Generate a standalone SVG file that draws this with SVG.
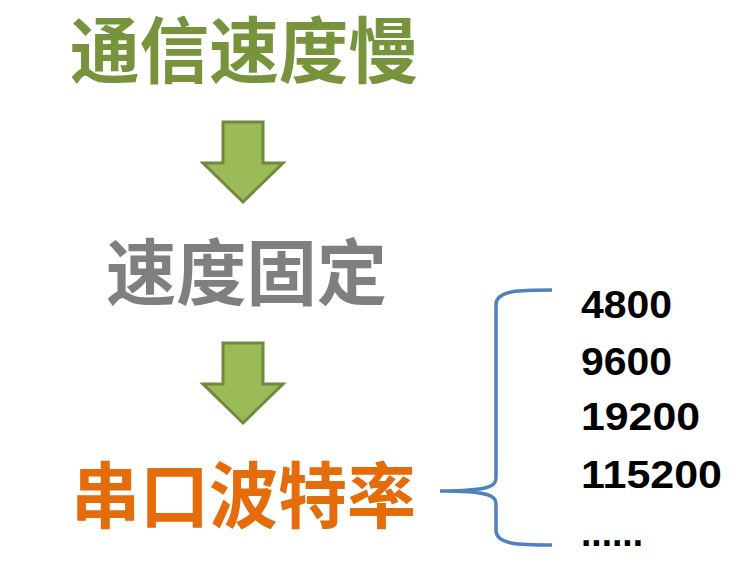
<svg xmlns="http://www.w3.org/2000/svg" width="743" height="577" viewBox="0 0 743 577">
<defs>
<style>
.cjk{font-family:"Noto Sans CJK SC","Noto Sans",sans-serif;font-weight:bold;font-size:72px}
.num{font-family:"Liberation Sans",Arial,sans-serif;font-weight:bold;font-size:39px;fill:#000}
.arrow{fill:#9bbb59;stroke:#71893f;stroke-width:3;stroke-linejoin:miter}
.brace{fill:none;stroke:#4f81bd;stroke-width:3.5;stroke-linecap:butt}
</style>
<path id="arr" d="M223,122 L263,122 L263,163 L283,163 L243,202 L203,163 L223,163 Z"/>
</defs>
<rect width="743" height="577" fill="#fff"/>
<g id="n1"><text class="cjk" x="70" y="77" fill="#77933c" textLength="348" lengthAdjust="spacingAndGlyphs">通信速度慢</text></g>
<g id="n2"><text class="cjk" x="106" y="299" fill="#7f7f7f" textLength="281" lengthAdjust="spacingAndGlyphs">速度固定</text></g>
<g id="n3"><text class="cjk" x="71" y="522" fill="#e46c0a" textLength="345" lengthAdjust="spacingAndGlyphs">串口波特率</text></g>
<g id="values">
<text class="num" x="581" y="318" textLength="91" lengthAdjust="spacingAndGlyphs">4800</text>
<text class="num" x="581" y="375" textLength="91" lengthAdjust="spacingAndGlyphs">9600</text>
<text class="num" x="581" y="430" textLength="119" lengthAdjust="spacingAndGlyphs">19200</text>
<text class="num" x="581" y="488" textLength="141" lengthAdjust="spacingAndGlyphs">115200</text>
<text class="num" x="581" y="546" textLength="62" lengthAdjust="spacingAndGlyphs">......</text>
</g>
<g id="connectors">
<use href="#arr" class="arrow"/>
<use href="#arr" class="arrow" transform="translate(0,221)"/>
<path class="brace" d="M552,290 C520,290 497,290 496,304 L496,478 C496,486 490,491 440,491 C490,491 496,496 496,504 L496,531 C497,545 520,545 552,545"/>
</g>
</svg>
